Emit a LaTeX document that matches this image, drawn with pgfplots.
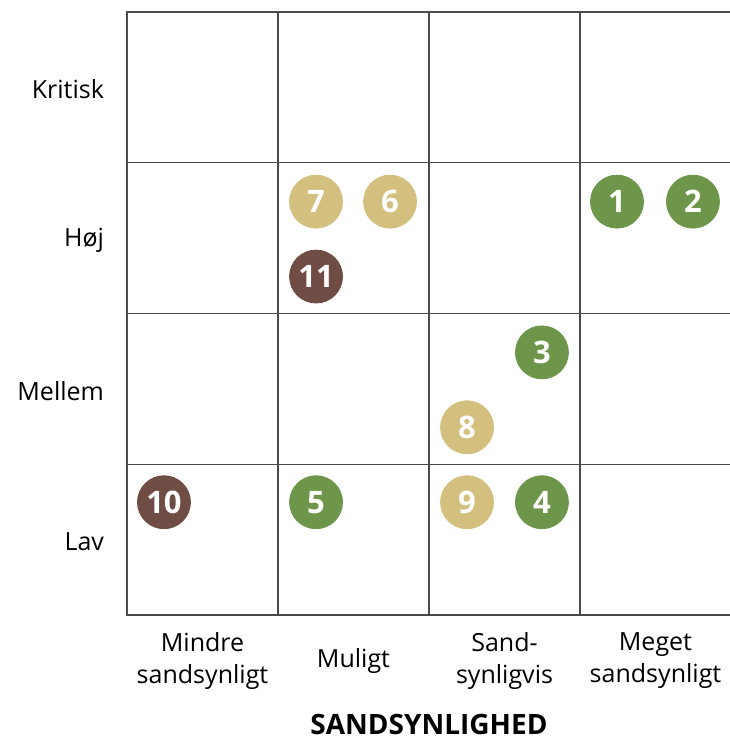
\documentclass[border=0pt]{standalone}
\usepackage{fontspec}
\setmainfont{Open Sans}
\usepackage{pgfplots}
\pgfplotsset{compat=1.18}
\usepackage{pgfplotstable}
\definecolor{cgreen}{HTML}{6E964A}
\definecolor{ctan}{HTML}{D4C07E}
\definecolor{cbrown}{HTML}{6F4D44}
\definecolor{gridc}{HTML}{4A4A4A}
\pgfplotstableread{
x y label
3.245 2.742 1
3.748 2.742 2
2.748 1.742 3
2.748 0.748 4
1.252 0.748 5
}\greentab
\pgfplotstableread{
x y label
1.742 2.742 6
1.252 2.742 7
2.252 1.245 8
2.252 0.748 9
}\tantab
\pgfplotstableread{
x y label
0.245 0.748 10
1.252 2.245 11
}\browntab
\begin{document}
\begin{tikzpicture}
\begin{axis}[
  scale only axis,
  at={(0,0)}, anchor=south west,
  width=302pt, height=301.5pt,
  xmin=0, xmax=4, ymin=0, ymax=4,
  clip=false,
  axis line style={gridc, line width=0.7pt},
  xtick={0.5,1.5,2.5,3.5},
  ytick={0.5,1.5,2.5,3.5},
  xticklabels={{Mindre\\sandsynligt},{Muligt},{Sand-\\synligvis},{Meget\\sandsynligt}},
  yticklabels={Lav,Mellem,H{\o}j,Kritisk},
  major tick length=0pt,
  minor xtick={1,2,3}, minor ytick={1,2,3},
  minor tick length=0pt,
  xminorgrids, yminorgrids,
  minor grid style={gridc, line width=0.7pt},
  xticklabel style={font=\fontsize{12.5}{16}\selectfont, align=center, anchor=center, yshift=-23pt},
  yticklabel style={font=\fontsize{12.5}{15}\selectfont, anchor=east, xshift=-8pt, yshift=-1pt},
  xlabel={SANDSYNLIGHED},
  xlabel style={font=\fontsize{14}{16}\selectfont\bfseries, inner sep=0pt, at={(axis description cs:0.5,0)}, anchor=center, yshift=-54.5pt},
  every node near coord/.style={anchor=center, text=white, font=\fontsize{15.5}{17}\selectfont\bfseries},
]
\addplot[only marks, mark=*, mark size=13.25pt, color=cgreen, nodes near coords, point meta=explicit symbolic] table[x=x, y=y, meta=label] {\greentab};
\addplot[only marks, mark=*, mark size=13.25pt, color=ctan, nodes near coords, point meta=explicit symbolic] table[x=x, y=y, meta=label] {\tantab};
\addplot[only marks, mark=*, mark size=13.25pt, color=cbrown, nodes near coords, point meta=explicit symbolic] table[x=x, y=y, meta=label] {\browntab};
\end{axis}
\pgfresetboundingbox
\useasboundingbox (-63.5pt,-62pt) rectangle (301pt,307.5pt);
\end{tikzpicture}
\end{document}
